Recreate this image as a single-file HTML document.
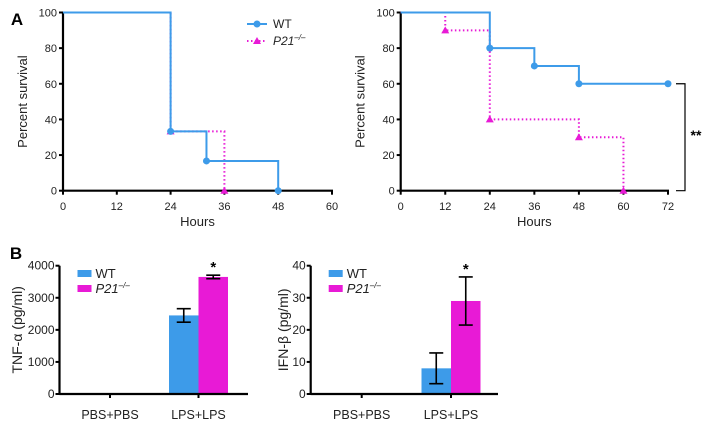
<!DOCTYPE html>
<html><head><meta charset="utf-8">
<style>
body{margin:0;background:#fff;overflow:hidden;}
svg{display:block;font-family:"Liberation Sans",Arial,sans-serif;}
</style></head>
<body>
<svg id="fig" width="718" height="427" viewBox="0 0 718 427"></svg>
<script>
// ---- Data ----
const a1WtTimes=[0,24,32,48];
const a1WtSurv=[100,33.3,16.7,0];
const a1KoTimes=[0,24,36];
const a1KoSurv=[100,33.3,0];
const a1Ticks=[0,12,24,36,48,60];
const a2WtTimes=[0,24,36,48,72];
const a2WtSurv=[100,80,70,60,60];
const a2KoTimes=[0,12,24,48,60];
const a2KoSurv=[100,90,40,30,0];
const a2Ticks=[0,12,24,36,48,60,72];
const survTicks=[0,20,40,60,80,100];
const barCategories=["PBS+PBS","LPS+LPS"];
const tnfWt=[0,2450];const tnfWtErr=[0,210];
const tnfKo=[0,3650];const tnfKoErr=[0,55];
const tnfTicks=[0,1000,2000,3000,4000];
const ifnWt=[0,8];const ifnWtErr=[0,4.8];
const ifnKo=[0,29];const ifnKoErr=[0,7.5];
const ifnTicks=[0,10,20,30,40];

const NS="http://www.w3.org/2000/svg";
const svg=document.getElementById('fig');
const BLUE="#3d9be9",PINK="#e81ad6";
function el(tag,attrs,parent,txt){const e=document.createElementNS(NS,tag);for(const k in attrs)e.setAttribute(k,attrs[k]);if(txt!==undefined)e.textContent=txt;(parent||svg).appendChild(e);return e;}
function grp(name){const g=el('g',{});return g;}
function label(g,x,y,t,opts){const o=Object.assign({'font-size':11,'text-anchor':'middle',fill:'#222'},opts||{});o.x=x;o.y=y;return el('text',o,g,t);}

function survival(name,x0,x1,xmax,ticks,wt,ko){
  const g=grp(name);
  const y0=190.7,y1=12.5;
  const sx=v=>x0+(x1-x0)*v/xmax, sy=v=>y0+(y1-y0)*v/100;
  const ax=el('g',{},g);
  el('line',{x1:x0,y1:y0,x2:x1+1,y2:y0,stroke:'#000','stroke-width':2.2},ax);
  el('line',{x1:x0,y1:y0+1,x2:x0,y2:y1,stroke:'#000','stroke-width':2.2},ax);
  ticks.forEach(t=>{el('line',{x1:sx(t),y1:y0,x2:sx(t),y2:y0+4,stroke:'#000','stroke-width':2},ax);label(ax,sx(t),210,t);});
  survTicks.forEach(t=>{el('line',{x1:x0-4,y1:sy(t),x2:x0,y2:sy(t),stroke:'#000','stroke-width':2},ax);label(ax,x0-6,sy(t)+4,t,{'text-anchor':'end'});});
  const xl=label(g,(x0+x1)/2,226,'Hours',{'font-size':13});
  const yl=label(g,0,0,'Percent survival',{'font-size':13,transform:`translate(${x0-36},${(y0+y1)/2}) rotate(-90)`});
  function step(ts,ss,col,dash,marker,sname){
    let d=`M${sx(ts[0])},${sy(ss[0])}`;
    for(let i=1;i<ts.length;i++){d+=` H${sx(ts[i])} V${sy(ss[i])}`;}
    const p=el('path',{d:d,fill:'none',stroke:col,'stroke-width':2,'stroke-dasharray':dash||'none'},g);
    
    for(let i=1;i<ts.length;i++){
      const cx=sx(ts[i]),cy=sy(ss[i]);let m;
      if(marker==='c')m=el('circle',{cx:cx,cy:cy,r:3.5,fill:col},g);
      else m=el('polygon',{points:`${cx},${cy-4} ${cx-4},${cy+3} ${cx+4},${cy+3}`,fill:col},g);
      
    }
  }
  step(ko[0],ko[1],PINK,'1.5 2.5','t','p21');
  step(wt[0],wt[1],BLUE,null,'c','wt');
  return {g,sx,sy};
}
survival('survival-chart-1',63,332,60,a1Ticks,[a1WtTimes,a1WtSurv],[a1KoTimes,a1KoSurv]);
const s2=survival('survival-chart-2',400.7,668,72,a2Ticks,[a2WtTimes,a2WtSurv],[a2KoTimes,a2KoSurv]);
const br=el('path',{d:`M676,${s2.sy(60)} H685 V${s2.sy(0)} H676`,fill:'none',stroke:'#000','stroke-width':1.2});

const st=label(svg,696,140,'**',{'font-size':14,'font-weight':'bold',fill:'#000'});


const lg=grp('legend-survival');
el('line',{x1:247,y1:24,x2:267,y2:24,stroke:BLUE,'stroke-width':2},lg);
el('circle',{cx:257,cy:24,r:3.5,fill:BLUE},lg);
label(lg,273,28,'WT',{'text-anchor':'start','font-size':12});
el('line',{x1:247,y1:41,x2:267,y2:41,stroke:PINK,'stroke-width':2,'stroke-dasharray':'1.5 2.5'},lg);
el('polygon',{points:'257,37 253,44 261,44',fill:PINK},lg);
const kt=el('text',{x:273,y:45,'font-size':12,'font-style':'italic',fill:'#222'},lg,'P21');
el('tspan',{dy:-5,'font-size':8},kt,'–/–');

const pa=label(svg,17,25,'A',{'font-size':17,'font-weight':'bold',fill:'#000'});
const pb=label(svg,16,259,'B',{'font-size':17,'font-weight':'bold',fill:'#000'});

function barChart(name,x0,x1,ymax,ticks,wt,wtE,ko,koE,ytitle,catX,titleX){
  const g=grp(name);
  const y0=394,y1=265.7;
  const sy=v=>y0+(y1-y0)*v/ymax;
  const bw=29.5;
  wt.forEach((v,i)=>{
    const cx=catX[i];
    const b1=el('rect',{x:cx-bw,y:sy(v),width:bw,height:y0-sy(v),fill:BLUE},g);
    
    const b2=el('rect',{x:cx,y:sy(ko[i]),width:bw,height:y0-sy(ko[i]),fill:PINK},g);
    
    [[cx-bw/2,v,wtE[i]],[cx+bw/2,ko[i],koE[i]]].forEach(([ex,m,e])=>{
      if(e>0){
        const eb=el('path',{d:`M${ex},${sy(m-e)} V${sy(m+e)} M${ex-7},${sy(m-e)} H${ex+7} M${ex-7},${sy(m+e)} H${ex+7}`,stroke:'#000','stroke-width':1.6,fill:'none'},g);
        
      }
    });
    if(ko[i]>0){const s=label(g,cx+bw/2,sy(ko[i]+koE[i])-3,'*',{'font-size':15,'font-weight':'bold',fill:'#000'});}
    const cl=label(g,cx,419,barCategories[i],{'font-size':12.5});
  });
  el('line',{x1:x0,y1:y0,x2:x1,y2:y0,stroke:'#000','stroke-width':2.2},g);
  el('line',{x1:x0,y1:y0+1,x2:x0,y2:y1,stroke:'#000','stroke-width':2.2},g);
  ticks.forEach(t=>{el('line',{x1:x0-4,y1:sy(t),x2:x0,y2:sy(t),stroke:'#000','stroke-width':2},g);label(g,x0-5,sy(t)+4,t,{'text-anchor':'end','font-size':12});});
  catX.forEach(c=>el('line',{x1:c,y1:y0,x2:c,y2:y0+4,stroke:'#000','stroke-width':2},g));
  const yl=label(g,0,0,ytitle,{'font-size':14,transform:`translate(${titleX},${(y0+y1)/2}) rotate(-90)`});
  const lgd=el('g',{},g);
  el('rect',{x:x0+18,y:270,width:14,height:7,fill:BLUE},lgd);
  label(lgd,x0+36,278,'WT',{'text-anchor':'start','font-size':13});
  el('rect',{x:x0+18,y:285,width:14,height:7,fill:PINK},lgd);
  const t=el('text',{x:x0+36,y:293,'font-size':13,'font-style':'italic',fill:'#222'},lgd,'P21');
  el('tspan',{dy:-5,'font-size':8},t,'–/–');
}
barChart('tnf-bar-chart',59.5,248,4000,tnfTicks,tnfWt,tnfWtErr,tnfKo,tnfKoErr,'TNF-α (pg/ml)',[110,198.5],22);
barChart('ifn-bar-chart',310.7,498,40,ifnTicks,ifnWt,ifnWtErr,ifnKo,ifnKoErr,'IFN-β (pg/ml)',[361.7,451],288);
</script>
</body></html>
